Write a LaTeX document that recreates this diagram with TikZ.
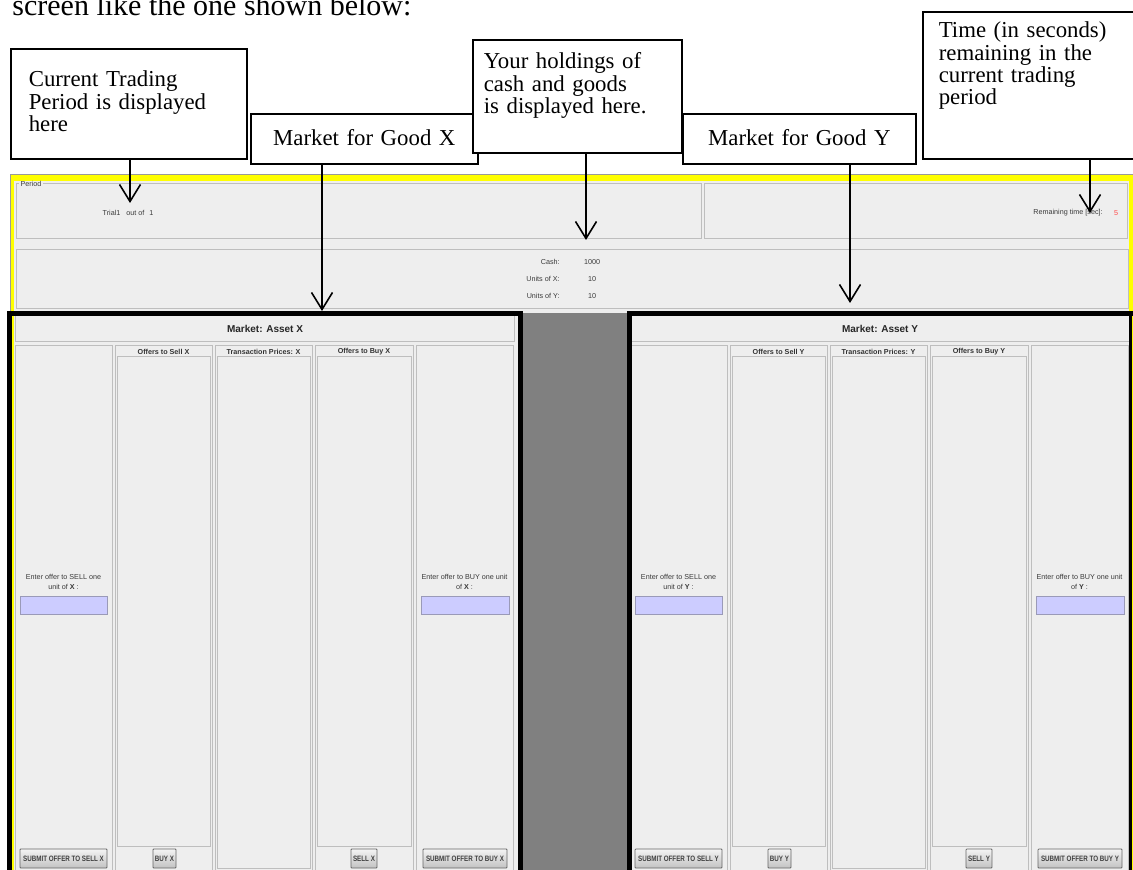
\documentclass[tikz,border=0pt]{standalone}
\usepackage{fontspec}
\setmainfont{Liberation Serif}
\setsansfont{Liberation Sans}
\usepackage{xcolor}
\usepackage{graphicx}
\usepackage{tikz}
\usetikzlibrary{arrows.meta}
\definecolor{panel}{HTML}{EEEEEE}
\definecolor{edge}{HTML}{BEBEBE}
\definecolor{rim}{HTML}{9A9A9A}
\definecolor{screen}{HTML}{FFFF00}
\definecolor{gap}{HTML}{808080}
\definecolor{entry}{HTML}{CCCCFF}
\definecolor{entryedge}{HTML}{9A9AB8}
\definecolor{btntop}{HTML}{F4F4F4}
\definecolor{btnbot}{HTML}{C2C2C2}
\definecolor{btnedge}{HTML}{666666}
\definecolor{guitext}{HTML}{3A3A3A}
\definecolor{timer}{HTML}{FF4A4A}
\newcommand{\btntxt}[1]{\scalebox{0.8}[1]{#1}}
\tikzset{
  lead/.style={inner sep=0pt, font=\fontsize{15}{18}\selectfont},
  callbox/.style={draw=black, line width=0.8pt, fill=white, anchor=north west,
    align=left, inner ysep=0pt, font=\fontsize{11.4}{11.2}\selectfont},
  callarr/.style={-{Straight Barb[length=8.5pt,width=10.5pt]}, line width=0.8pt},
  pane/.style={draw=edge, fill=panel, line width=0.5pt},
  listpane/.style={draw=edge, line width=0.5pt},
  gui/.style={text=guitext, inner sep=0pt, font=\sffamily\fontsize{3.6}{4.8}\selectfont},
  guib/.style={text=black!80, inner sep=0pt, font=\sffamily\bfseries\fontsize{3.6}{4.5}\selectfont},
  headtxt/.style={text=black!85, inner sep=0pt, font=\sffamily\bfseries\fontsize{5}{6}\selectfont},
  entrybox/.style={draw=entryedge, fill=entry, line width=0.5pt},
  button/.style={draw=btnedge, top color=btntop, bottom color=btnbot, line width=0.4pt,
    rounded corners=0.4pt, inner sep=0pt, minimum height=9.5pt, text=black!75,
    font=\sffamily\bfseries\fontsize{3.9}{4.5}\selectfont},
  frame/.style={draw=black, line width=2.5pt}
}

\begin{document}
\begin{tikzpicture}[x=0.5pt, y=-0.5pt]
  \useasboundingbox (0,0) rectangle (1133,870);
  \clip (0,0) rectangle (1133,870);

  \node[lead, anchor=base west] (intro) at (12,16) {screen like the one shown below:};

  % the trading screen
  \draw[draw=rim, fill=screen, line width=0.5pt] (10,175) rectangle (1150,900);
  \fill[panel] (14,181) rectangle (1129,900);

  \draw[pane] (16,184) rectangle (701,239);
  \node[gui, fill=panel, anchor=west, inner xsep=0.6pt] (pertitle) at (19,184) {Period};
  \node[gui] (trial) at (128,213) {Trial1\hspace{3pt}out of\hspace{2.5pt}1};
  \draw[pane] (704,184) rectangle (1127,239);
  \node[gui, anchor=east] (remain) at (1103,213) {Remaining time [sec]:};
  \node[gui, text=timer] (secs) at (1116,213) {5};

  \draw[pane] (16,250) rectangle (1128,309);
  \node[gui, anchor=east] (cashL) at (560,262) {Cash:};
  \node[gui] (cashV) at (592,262) {1000};
  \node[gui, anchor=east] (unitXL) at (560,279) {Units of X:};
  \node[gui] (unitXV) at (592,279) {10};
  \node[gui, anchor=east] (unitYL) at (560,296) {Units of Y:};
  \node[gui] (unitYV) at (592,296) {10};

  % the two markets
  \fill[gap] (520,313) rectangle (630,900);
  \foreach \m/\dx in {X/0, Y/615}{
    \begin{scope}[shift={(\dx,0)}]
      \draw[pane] (15,316) rectangle (514,342);
      \node[headtxt] (head\m) at (265,329) {Market: Asset \m};

      \draw[pane] (15,346) rectangle (112,880);
      \node[gui, align=center] (selltxt\m) at (63.5,582) {Enter offer to SELL one\\unit of \textbf{\m} :};
      \draw[entrybox] (20,596) rectangle (107,614);
      \node[button, minimum width=43.5pt] (sellsub\m) at (63.5,858.5) {\btntxt{SUBMIT OFFER TO SELL \m}};

      \draw[pane] (115,346) rectangle (212,880);
      \draw[listpane] (117,357) rectangle (210,846);
      \node[guib] (asks\m) at (163.5,351.5) {Offers to Sell \m};
      \node[button, minimum width=11.5pt] (buy\m) at (164.5,858.5) {\btntxt{BUY \m}};

      \draw[pane] (215,346) rectangle (312,880);
      \draw[listpane] (217,357) rectangle (310,868);
      \node[guib] (trades\m) at (263.5,351.5) {Transaction Prices: \m};

      \draw[pane] (315,346) rectangle (413,880);
      \draw[listpane] (317,357) rectangle (411,846);
      \node[guib] (bids\m) at (364,351.5) {Offers to Buy \m};
      \node[button, minimum width=13pt] (sell\m) at (364,858.5) {\btntxt{SELL \m}};

      \draw[pane] (416,346) rectangle (513,880);
      \node[gui, align=center] (buytxt\m) at (464.5,582) {Enter offer to BUY one unit\\of \textbf{\m} :};
      \draw[entrybox] (421,596) rectangle (509,614);
      \node[button, minimum width=42pt] (buysub\m) at (465,858.5) {\btntxt{SUBMIT OFFER TO BUY \m}};
    \end{scope}
  }
  \draw[frame] (9.5,313.5) rectangle (520,900);
  \draw[frame] (629,313.5) rectangle (1131,900);
  \draw[screen, line width=0.75pt] (1132.6,316) -- (1132.6,870);

  % call-outs
  \node[callbox, inner xsep=9pt, text width=100pt, text height=19pt, text depth=36pt]
    (perbox) at (10,48) {Current Trading\\Period is displayed\\here};
  \node[callbox, align=center, inner xsep=5pt, text width=103.5pt, text height=16pt, text depth=9pt]
    (goodX) at (250,113) {Market for Good X};
  \node[callbox, inner xsep=5.5pt, text width=93.5pt, text height=14.5pt, text depth=42pt]
    (holdbox) at (472,39) {Your holdings of\\cash and goods\\is displayed here.};
  \node[callbox, align=center, inner xsep=5pt, text width=106.5pt, text height=16pt, text depth=9pt]
    (goodY) at (682,113) {Market for Good Y};
  \node[callbox, inner xsep=8pt, text width=104pt, text height=13pt, text depth=60.5pt]
    (timebox) at (922,11) {Time (in seconds)\\remaining in the\\current trading\\period};

  \coordinate (perTip) at (130,203);
  \coordinate (goodXTip) at (322,311);
  \coordinate (holdTip) at (586,240);
  \coordinate (goodYTip) at (850,303);
  \coordinate (timeTip) at (1090,213);

  \draw[callarr] (perbox.south -| perTip) -- (perTip);
  \draw[callarr] (goodX.south -| goodXTip) -- (goodXTip);
  \draw[callarr] (holdbox.south -| holdTip) -- (holdTip);
  \draw[callarr] (goodY.south -| goodYTip) -- (goodYTip);
  \draw[callarr] (timebox.south -| timeTip) -- (timeTip);
\end{tikzpicture}
\end{document}
